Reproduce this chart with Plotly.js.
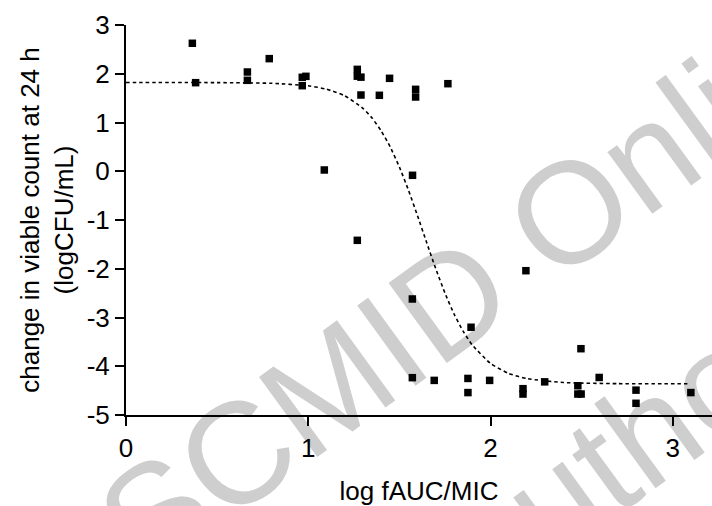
<!DOCTYPE html>
<html>
<head>
<meta charset="utf-8">
<script src="https://cdn.plot.ly/plotly-3.0.1.min.js"></script>
<style>html,body{margin:0;padding:0;background:#fff;}#chart{width:712px;height:506px;}</style>
</head>
<body>
<div id="chart"></div>
<script>
// Observed data points: log fAUC/MIC vs change in viable count (logCFU/mL)
const obsX = [0.364, 0.382, 0.666, 0.666, 0.786, 0.967, 0.987, 0.967, 1.088,
  1.269, 1.269, 1.289, 1.446, 1.289, 1.390, 1.589, 1.589, 1.766, 1.572,
  1.269, 1.571, 2.194, 1.893, 2.496,
  1.571, 1.691, 1.876, 1.876, 1.995, 2.178, 2.178, 2.297, 2.479, 2.479, 2.497,
  2.596, 2.798, 2.798, 3.099];
const obsY = [2.625, 1.817, 2.036, 1.865, 2.31, 1.927, 1.947, 1.755, 0.026,
  2.09, 1.95, 1.93, 1.906, 1.564, 1.558, 1.68, 1.523, 1.796, -0.083,
  -1.417, -2.62, -2.04, -3.2, -3.64,
  -4.234, -4.29, -4.25, -4.54, -4.29, -4.46, -4.57, -4.32, -4.40, -4.57, -4.57,
  -4.23, -4.49, -4.76, -4.54];

// Fitted curve, points
const fitX = [0, 0.5, 0.8, 1.0, 1.1, 1.2, 1.3, 1.35, 1.4, 1.45, 1.5, 1.55, 1.6,
  1.65, 1.7, 1.75, 1.8, 1.85, 1.9, 2.0, 2.1, 2.2, 2.4, 2.7, 3.08];
const fitY = [1.82, 1.818, 1.804, 1.753, 1.684, 1.549, 1.292, 1.091, 0.829, 0.495,
  0.086, -0.391, -0.919, -1.468, -2.005, -2.50, -2.929, -3.283, -3.565, -3.943,
  -4.149, -4.254, -4.334, -4.357, -4.36];

const xTicks = [0, 1, 2, 3];
const yTicks = [-5, -4, -3, -2, -1, 0, 1, 2, 3];
const watermark = ['ESCMID Online', 'Author'];

const traces = [
  {x: fitX, y: fitY, type: 'scatter', mode: 'lines',
   line: {color: '#000', width: 1.6, dash: '3.5px,3px', shape: 'spline', smoothing: 0.5},
   hoverinfo: 'skip', showlegend: false},
  {x: obsX, y: obsY, type: 'scatter', mode: 'markers',
   marker: {symbol: 'square', size: 7.5, color: '#000'}, showlegend: false}
];

const font = 'Liberation Sans, Arial, sans-serif';
const wmFont = {family: font, size: 144, color: '#cecece'};
const L = 126, T = 25, W = 586, H = 390;
function wm(text, cx, cy) {
  const px = (cx - L) / W, py = (T + H - cy) / H;
  return {type: 'rect', xref: 'paper', yref: 'paper', layer: 'below',
    x0: px - 0.01, x1: px + 0.01, y0: py - 0.01, y1: py + 0.01,
    line: {width: 0}, fillcolor: 'rgba(0,0,0,0)',
    label: {text: text, font: wmFont, textangle: -36, textposition: 'middle center'}};
}

const layout = {
  width: 712, height: 506,
  margin: {l: 126, r: 0, t: 25, b: 91},
  paper_bgcolor: '#fff', plot_bgcolor: 'rgba(0,0,0,0)',
  font: {family: font, color: '#000', size: 26},
  xaxis: {range: [0, 3.215], tickvals: xTicks, ticktext: xTicks.map(String),
    showgrid: false, zeroline: false, showline: true, linecolor: '#000', linewidth: 2,
    ticks: 'outside', ticklen: 9, tickwidth: 2, tickcolor: '#000',
    tickfont: {size: 26}, automargin: false,
    title: {text: 'log fAUC/MIC', font: {size: 26}, standoff: 20}},
  yaxis: {range: [-5, 3], tickvals: yTicks, ticktext: yTicks.map(String),
    showgrid: false, zeroline: false, showline: true, linecolor: '#000', linewidth: 2,
    ticks: 'outside', ticklen: 9, tickwidth: 2, tickcolor: '#000',
    tickfont: {size: 26}, automargin: false,
    title: {text: 'change in viable count at 24 h<br>(logCFU/mL)', font: {size: 26}, standoff: 6}},
  shapes: [wm(watermark[0], 442, 288), wm(watermark[1], 607, 445)]
};

Plotly.newPlot('chart', traces, layout, {displayModeBar: false, staticPlot: true});
</script>
</body>
</html>
